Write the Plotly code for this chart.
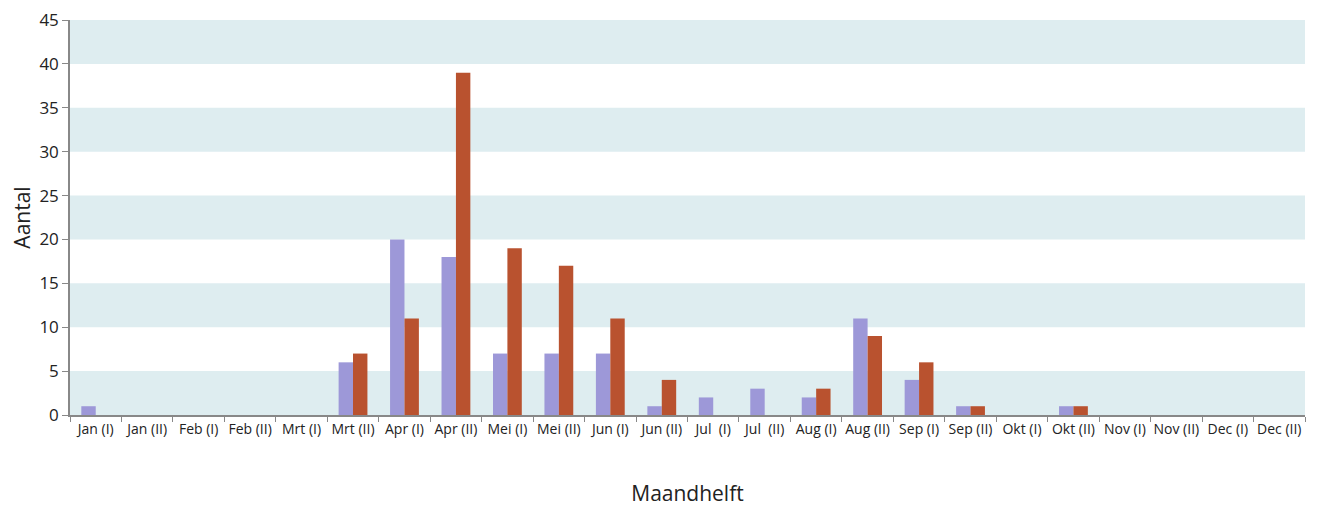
import plotly.graph_objects as go

categories = ["Jan (I)", "Jan (II)", "Feb (I)", "Feb (II)", "Mrt (I)", "Mrt (II)",
              "Apr (I)", "Apr (II)", "Mei (I)", "Mei (II)", "Jun (I)", "Jun (II)",
              "Jul\u00a0 (I)", "Jul\u00a0 (II)", "Aug (I)", "Aug (II)", "Sep (I)", "Sep (II)",
              "Okt (I)", "Okt (II)", "Nov (I)", "Nov (II)", "Dec (I)", "Dec (II)"]
series_a = [1, 0, 0, 0, 0, 6, 20, 18, 7, 7, 7, 1, 2, 3, 2, 11, 4, 1, 0, 1, 0, 0, 0, 0]
series_b = [0, 0, 0, 0, 0, 7, 11, 39, 19, 17, 11, 4, 0, 0, 3, 9, 6, 1, 0, 1, 0, 0, 0, 0]
y_ticks = [0, 5, 10, 15, 20, 25, 30, 35, 40, 45]
band_ranges = [(0, 5), (10, 15), (20, 25), (30, 35), (40, 45)]

font_family = "Open Sans, Noto Sans, sans-serif"

fig = go.Figure()
fig.add_trace(go.Bar(x=categories, y=series_a, marker_color="#9d98d8",
                     marker_line_width=0, name="A"))
fig.add_trace(go.Bar(x=categories, y=series_b, marker_color="#b9522f",
                     marker_line_width=0, name="B"))

for lo, hi in band_ranges:
    fig.add_shape(type="rect", xref="paper", yref="y", x0=0, x1=1, y0=lo, y1=hi,
                  fillcolor="#deedf0", line_width=0, layer="below")

fig.update_layout(
    width=1321, height=506,
    margin=dict(l=62, r=24, t=12, b=99),
    paper_bgcolor="white", plot_bgcolor="white",
    barmode="group", bargap=0.44, bargroupgap=0,
    showlegend=False,
    font=dict(family=font_family, color="#222222"),
    xaxis=dict(
        categoryorder="array", categoryarray=categories, automargin=False,
        tickson="boundaries", ticks="outside", ticklen=5, tickcolor="#888888",
        showline=True, linecolor="#888888", linewidth=1.5,
        showgrid=False, tickfont=dict(size=14, color="#222222"),
        tickangle=0,
        title=dict(text="Maandhelft", font=dict(size=21), standoff=50),
    ),
    yaxis=dict(
        range=[0, 45], tickvals=y_ticks, ticks="outside", ticklen=6, automargin=False,
        ticklabeloverflow="allow",
        tickcolor="#888888", showline=True, linecolor="#888888", linewidth=1.5,
        showgrid=False, zeroline=False, tickfont=dict(size=17, color="#222222"),
        title=dict(text="Aantal", font=dict(size=21), standoff=7),
    ),
)

fig.write_html("out.html")
